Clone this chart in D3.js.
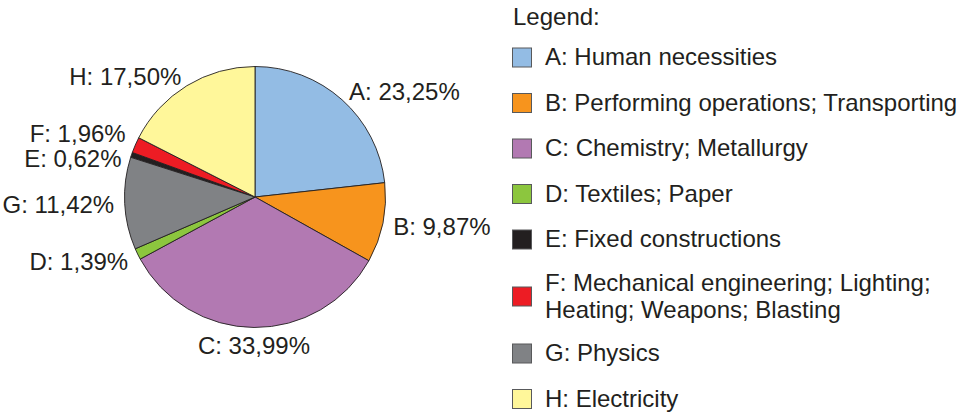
<!DOCTYPE html>
<html lang="en">
<head>
<meta charset="UTF-8">
<title>IPC sections</title>
<script src="https://cdn.jsdelivr.net/npm/d3@7"></script>
<style>
  body { margin: 0; background: #fff; }
  svg { display: block; font-family: Arial, "Liberation Sans", Helvetica, sans-serif; }
  .lbl, .leg { font-size: 24px; fill: #231f20; }
</style>
</head>
<body>
<svg id="chart" width="963" height="416"></svg>
<script>
// data
var codes = ["A", "B", "C", "D", "E", "F", "G", "H"];
var names = [
  ["Human necessities"],
  ["Performing operations; Transporting"],
  ["Chemistry; Metallurgy"],
  ["Textiles; Paper"],
  ["Fixed constructions"],
  ["Mechanical engineering; Lighting;", "Heating; Weapons; Blasting"],
  ["Physics"],
  ["Electricity"]
];
var shares = [23.25, 9.87, 33.99, 1.39, 0.62, 1.96, 11.42, 17.50];
var colors = ["#93bce4", "#f7941d", "#b279b2", "#8cc63e", "#231f20", "#ed1c24", "#808285", "#fff79a"];
// order of slices clockwise from 12 o'clock
var pieOrder = ["A", "B", "C", "D", "G", "E", "F", "H"];

var rows = codes.map(function(c, i) {
  return {code: c, name: names[i], value: shares[i], color: colors[i]};
});

var svg = d3.select("#chart");
var cx = 255, cy = 197, radius = 130.5, labelR = 141;

var fmt = d3.formatLocale({decimal: ",", thousands: ".", grouping: [3], currency: ["", ""]}).format(".2f");

var pie = d3.pie()
    .value(function(d) { return d.value; })
    .sort(function(a, b) { return pieOrder.indexOf(a.code) - pieOrder.indexOf(b.code); });

var arc = d3.arc().innerRadius(0).outerRadius(radius);
var labelArc = d3.arc().innerRadius(labelR).outerRadius(labelR);

var arcs = pie(rows);

var g = svg.append("g").attr("transform", "translate(" + cx + "," + cy + ")");

g.selectAll("path")
  .data(arcs)
  .enter().append("path")
    .attr("d", arc)
    .attr("fill", function(d) { return d.data.color; })
    .attr("stroke", "#231f20")
    .attr("stroke-width", 0.9)
    .attr("stroke-linejoin", "round");

// label anchor points
var labels = arcs.map(function(d) {
  var p = labelArc.centroid(d);
  var a = (d.startAngle + d.endAngle) / 2;
  var s = Math.sin(a), c = Math.cos(a);
  return {
    d: d,
    x: p[0],
    y: p[1] + Math.max(0, -c) * 8,
    anchor: Math.abs(s) < 0.2 ? "middle" : (s > 0 ? "start" : "end"),
    side: s >= 0 ? 1 : -1
  };
});

// keep neighbouring labels on the same side apart
var minGap = 25.5;
[-1, 1].forEach(function(side) {
  var list = labels.filter(function(l) { return l.side === side && l.anchor !== "middle"; })
    .sort(function(a, b) { return a.y - b.y; });
  for (var k = 0; k < 10; k++) {
    for (var i = 1; i < list.length; i++) {
      var gap = list[i].y - list[i - 1].y;
      if (gap < minGap) {
        var push = (minGap - gap) / 2;
        list[i - 1].y -= push;
        list[i].y += push;
      }
    }
  }
});

g.selectAll("text.lbl")
  .data(labels)
  .enter().append("text")
    .attr("class", "lbl")
    .attr("x", function(l) { return l.x; })
    .attr("y", function(l) { return l.y; })
    .attr("dy", "0.35em")
    .attr("text-anchor", function(l) { return l.anchor; })
    .text(function(l) { return l.d.data.code + ": " + fmt(l.d.data.value) + "%"; });

// legend
var leg = svg.append("g").attr("transform", "translate(512,0)");

leg.append("text")
  .attr("class", "leg")
  .attr("x", 1)
  .attr("y", 25)
  .text("Legend:");

var step = 45.5, lineH = 27;
var y = 58 - step / 2;
rows.forEach(function(r) {
  var h = step + (r.name.length - 1) * 23;
  var mid = y + h / 2;
  leg.append("rect")
    .attr("x", 0.5)
    .attr("y", mid - 10)
    .attr("width", 19)
    .attr("height", 19)
    .attr("fill", r.color)
    .attr("stroke", "#58595b")
    .attr("stroke-width", 1);
  var t = leg.append("text")
    .attr("class", "leg")
    .attr("x", 33)
    .attr("y", mid + 7 - (r.name.length - 1) * lineH / 2);
  r.name.forEach(function(line, i) {
    t.append("tspan")
      .attr("x", 33)
      .attr("dy", i === 0 ? 0 : lineH)
      .text(i === 0 ? r.code + ": " + line : line);
  });
  y += h;
});
</script>
</body>
</html>
